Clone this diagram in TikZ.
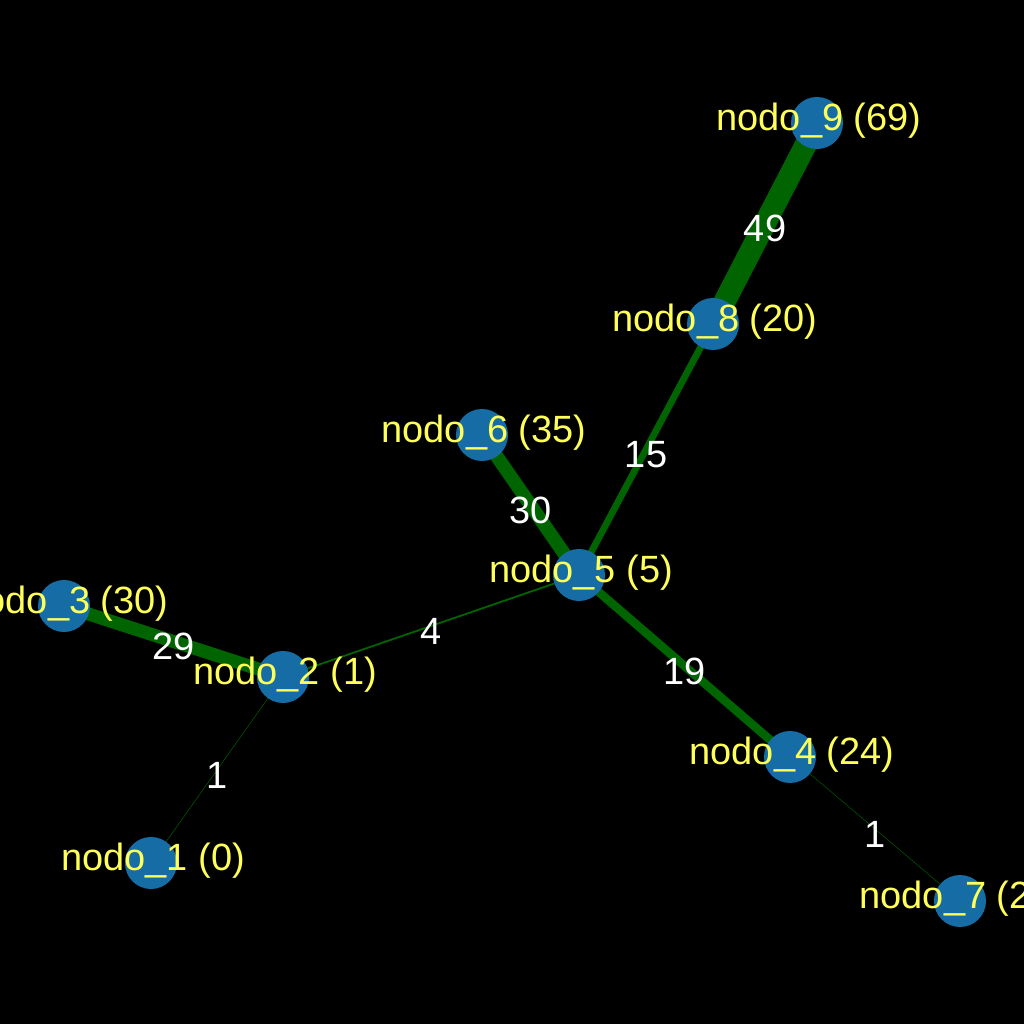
\documentclass[tikz,border=0pt]{standalone}
\usepackage{fontspec}
\setmainfont{Liberation Sans}
\pgfdeclarelayer{bg}
\pgfdeclarelayer{edges}
\pgfsetlayers{bg,edges,main}
\definecolor{nodeblue}{RGB}{22,108,164}
\definecolor{edgegreen}{RGB}{0,100,0}
\definecolor{lblyellow}{RGB}{255,255,90}
\tikzset{
	vert/.style={circle,fill=nodeblue,minimum size=0.52cm,inner sep=0pt},
	vlabel/.style={text=lblyellow,xshift=0.02cm,yshift=0.02cm,font=\fontsize{10.8}{13}\selectfont},
	wire/.style={draw=edgegreen,line width=#1*0.128pt},
	weight/.style={midway,yshift=-0.05cm,text=white,font=\fontsize{10.8}{13}\selectfont}
}

\begin{document}
\begin{tikzpicture}[x=0.01cm,y=0.01cm]
	\begin{pgfonlayer}{bg}
		\fill[black] (0,0) rectangle (1024,1024);
	\end{pgfonlayer}
	\useasboundingbox (0,0) rectangle (1024,1024);
	\clip (0,0) rectangle (1024,1024);
	% vertices
	\node[vert,label={[vlabel]center:nodo\_1 (0)}] (n1) at (151,161) {};
	\node[vert,label={[vlabel]center:nodo\_2 (1)}] (n2) at (283,347) {};
	\node[vert,label={[vlabel]center:nodo\_3 (30)}] (n3) at (64,418) {};
	\node[vert,label={[vlabel]center:nodo\_4 (24)}] (n4) at (790,267) {};
	\node[vert,label={[vlabel]center:nodo\_5 (5)}] (n5) at (579,449) {};
	\node[vert,label={[vlabel]center:nodo\_6 (35)}] (n6) at (482,589) {};
	\node[vert,label={[vlabel]center:nodo\_7 (24)}] (n7) at (960,123) {};
	\node[vert,label={[vlabel]center:nodo\_8 (20)}] (n8) at (713,700) {};
	\node[vert,label={[vlabel]center:nodo\_9 (69)}] (n9) at (817,901) {};
	% weighted edges
	\begin{pgfonlayer}{edges}
		\draw[wire=1] (n1.center) -- node[weight] {1} (n2.center);
		\draw[wire=29] (n3.center) -- node[weight] {29} (n2.center);
		\draw[wire=4] (n2.center) -- node[weight] {4} (n5.center);
		\draw[wire=30] (n6.center) -- node[weight] {30} (n5.center);
		\draw[wire=15] (n5.center) -- node[weight] {15} (n8.center);
		\draw[wire=19] (n5.center) -- node[weight] {19} (n4.center);
		\draw[wire=1] (n4.center) -- node[weight] {1} (n7.center);
		\draw[wire=49] (n8.center) -- node[weight] {49} (n9.center);
	\end{pgfonlayer}
\end{tikzpicture}
\end{document}
